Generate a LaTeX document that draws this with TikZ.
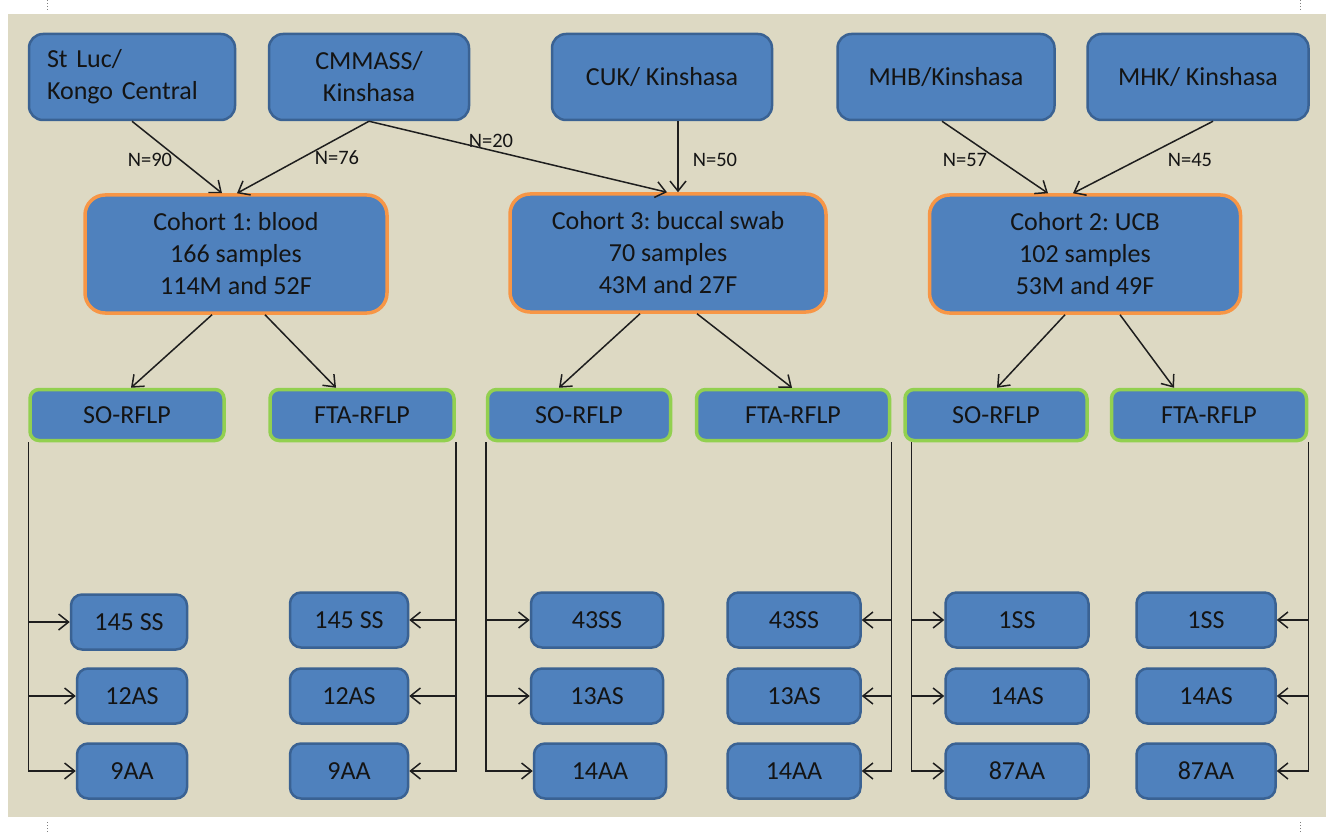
\documentclass[tikz,border=0pt]{standalone}
\usepackage{fontspec}
\setmainfont{Carlito}
\frenchspacing
\usetikzlibrary{arrows.meta,positioning,calc}
\definecolor{bgtan}{HTML}{DDD9C3}
\definecolor{boxblue}{HTML}{4F81BD}
\definecolor{boxedge}{HTML}{3A6293}
\definecolor{cohortedge}{HTML}{F79646}
\definecolor{methodedge}{HTML}{92D050}
\definecolor{textdark}{HTML}{141414}
\definecolor{linedark}{HTML}{1E1E1E}

\begin{document}
\begin{tikzpicture}[x=1pt,y=-1pt,>={Straight Barb[length=10pt,width=16pt]},
    box/.style={draw=boxedge,fill=boxblue,line width=2.5pt,rounded corners=14pt,inner sep=0pt,
      font=\fontsize{26}{32}\selectfont,text=textdark},
    site/.style={box,minimum height=86pt},
    cohort/.style={box,draw=cohortedge,line width=3.5pt,rounded corners=20pt,minimum height=118pt,align=center},
    method/.style={box,draw=methodedge,line width=3.5pt,rounded corners=9pt,minimum height=51pt},
    result/.style={box,rounded corners=11pt,minimum height=55pt},
    count/.style={font=\fontsize{20.5}{22}\selectfont,text=textdark},
    link/.style={->,line width=1.5pt,draw=linedark}]
        \useasboundingbox (0,0) rectangle (1326,832);
        \fill[bgtan] (8,14) rectangle (1326,817);
        \foreach \cx in {47,1300} {
          \draw[gray,dotted,line width=1pt] (\cx,0) -- (\cx,10);
          \draw[gray,dotted,line width=1pt] (\cx,822) -- (\cx,832);
        }
        \node[site,minimum width=206pt,text width=170pt,align=left] (stluc) at (132,77) {St Luc/\\Kongo Central};
        \node[site,minimum width=200pt,align=center] (cmmass) at (369,77) {CMMASS/\\Kinshasa};
        \node[site,minimum width=220pt] (cuk) at (662,77) {CUK/ Kinshasa};
        \node[site,minimum width=217pt] (mhb) at (946,77) {MHB/Kinshasa};
        \node[site,minimum width=221pt] (mhk) at (1198,77) {MHK/ Kinshasa};
        \node[cohort,minimum width=302pt] (c1) at (236,254) {Cohort 1: blood\\166 samples\\114M and 52F};
        \node[cohort,minimum width=316pt] (c3) at (668,253) {Cohort 3: buccal swab\\70 samples\\43M and 27F};
        \node[cohort,minimum width=311pt] (c2) at (1085,254) {Cohort 2: UCB\\102 samples\\53M and 49F};
        \node[count] (n90) at (150,160) {N=90};
        \node[count] (n76) at (337,158) {N=76};
        \node[count] (n20) at (491,141) {N=20};
        \node[count] (n50) at (715,160) {N=50};
        \node[count] (n57) at (965,160) {N=57};
        \node[count] (n45) at (1190,160) {N=45};
        \draw[link] (stluc.south) -- ([xshift=-14]c1.north);
        \draw[link] (cmmass.south) -- ([xshift=1]c1.north);
        \draw[link] (cmmass.south) -- ([xshift=-1]c3.north);
        \draw[link] ([xshift=16]cuk.south) -- ([xshift=10]c3.north);
        \draw[link] ([xshift=-4]mhb.south) -- ([xshift=-37]c2.north);
        \draw[link] ([xshift=15]mhk.south) -- ([xshift=-12]c2.north);
        \node[method,minimum width=194pt] (so1) at (127,415) {SO-RFLP};
        \node[method,minimum width=184pt] (fta1) at (362,415) {FTA-RFLP};
        \node[method,minimum width=183pt] (so3) at (579,415) {SO-RFLP};
        \node[method,minimum width=193pt] (fta3) at (793,415) {FTA-RFLP};
        \node[method,minimum width=182pt] (so2) at (996,415) {SO-RFLP};
        \node[method,minimum width=195pt] (fta2) at (1209,415) {FTA-RFLP};
        \draw[link] ([xshift=-24]c1.south) -- ([xshift=4]so1.north);
        \draw[link] ([xshift=29]c1.south) -- ([xshift=-26]fta1.north);
        \draw[link] ([xshift=-28]c3.south) -- ([xshift=-20]so3.north);
        \draw[link] ([xshift=29]c3.south) -- ([xshift=-1]fta3.north);
        \draw[link] ([xshift=-20]c2.south) -- ([xshift=1]so2.north);
        \draw[link] ([xshift=35]c2.south) -- ([xshift=-35]fta2.north);
        \node[result,minimum width=116pt] (so1a) at (129,622) {145 SS};
        \node[result,minimum width=110pt] (so1b) at (132,696) {12AS};
        \node[result,minimum width=110pt] (so1c) at (132,771) {9AA};
        \node[result,minimum width=118pt] (fta1a) at (349,620) {145 SS};
        \node[result,minimum width=118pt] (fta1b) at (349,696) {12AS};
        \node[result,minimum width=118pt] (fta1c) at (349,771) {9AA};
        \node[result,minimum width=132pt] (so3a) at (597,620) {43SS};
        \node[result,minimum width=132pt] (so3b) at (597,696) {13AS};
        \node[result,minimum width=132pt] (so3c) at (600,771) {14AA};
        \node[result,minimum width=133pt] (fta3a) at (794,620) {43SS};
        \node[result,minimum width=133pt] (fta3b) at (794,696) {13AS};
        \node[result,minimum width=133pt] (fta3c) at (794,771) {14AA};
        \node[result,minimum width=143pt] (so2a) at (1017,620) {1SS};
        \node[result,minimum width=143pt] (so2b) at (1017,696) {14AS};
        \node[result,minimum width=143pt] (so2c) at (1017,771) {87AA};
        \node[result,minimum width=139pt] (fta2a) at (1206,620) {1SS};
        \node[result,minimum width=139pt] (fta2b) at (1206,696) {14AS};
        \node[result,minimum width=139pt] (fta2c) at (1206,771) {87AA};
        \foreach \r in {so1a,so1b,so1c} \draw[link] (so1.south west) |- (\r.west);
        \foreach \r in {fta1a,fta1b,fta1c} \draw[link] (fta1.south east) |- (\r.east);
        \foreach \r in {so3a,so3b,so3c} \draw[link] (so3.south west) |- (\r.west);
        \foreach \r in {fta3a,fta3b,fta3c} \draw[link] (fta3.south east) |- (\r.east);
        \foreach \r in {so2a,so2b,so2c} \draw[link] ([xshift=8]so2.south west) |- (\r.west);
        \foreach \r in {fta2a,fta2b,fta2c} \draw[link] (fta2.south east) |- (\r.east);
      \end{tikzpicture}
\end{document}
